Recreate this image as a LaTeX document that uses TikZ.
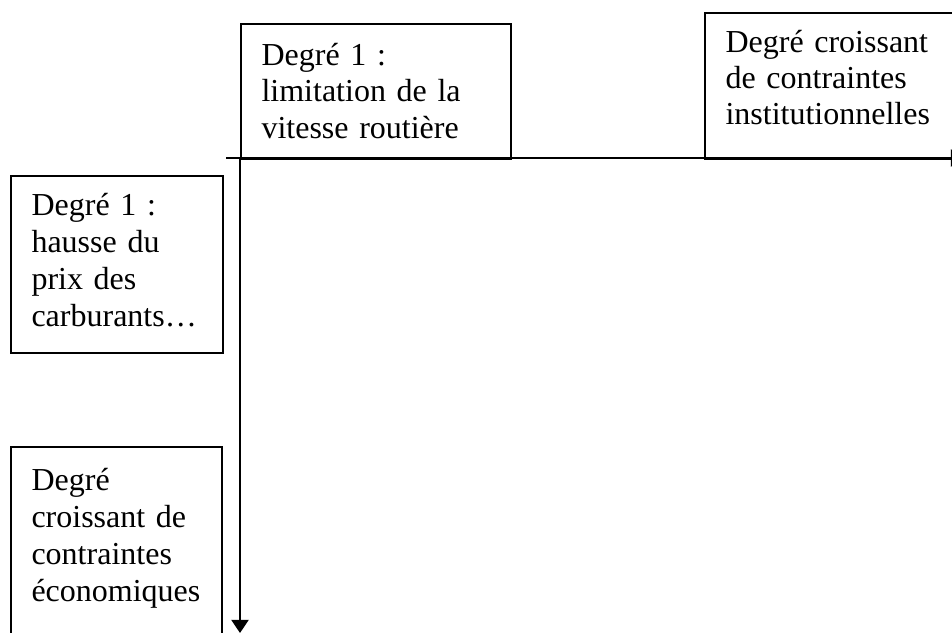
\documentclass[tikz,border=0pt]{standalone}
\usepackage{fontspec}
\setmainfont{Liberation Serif}
\usetikzlibrary{arrows.meta}
\tikzset{
  boxnode/.style={draw, line width=0.65pt, inner sep=0pt, anchor=north west},
  txt/.style={inner sep=0pt, anchor=base west, text width=#1, align=left},
  axisline/.style={line width=0.7pt, -{Triangle[length=4.9pt,width=6.4pt]}}
}
\begin{document}
\begin{tikzpicture}[x=0.375pt,y=-0.375pt]
\useasboundingbox (0,0) rectangle (952,633);
\clip (0,0) rectangle (952,633);
% boxes
\node[boxnode, minimum width=101.25pt, minimum height=50.625pt] (boxA) at (240,23) {};
\node[boxnode, minimum width=96.75pt, minimum height=54.75pt] (boxB) at (704,12) {};
\node[boxnode, minimum width=79.5pt, minimum height=66.4pt] (boxC) at (10,175) {};
\node[boxnode, minimum width=79.1pt, minimum height=75pt] (boxD) at (10,446) {};
% texts
\node[txt=95pt, font=\fontsize{12}{13.76}\selectfont] (textA) at (261,65) {Degré 1 :\\limitation de la\\vitesse routière};
\node[txt=90pt, font=\fontsize{12}{13.65}\selectfont] (textB) at (725,52) {Degré croissant\\de contraintes\\institutionnelles};
\node[txt=75pt, font=\fontsize{12}{13.95}\selectfont] (textC) at (31,215) {Degré 1 :\\hausse du\\prix des\\carburants…};
\node[txt=75pt, font=\fontsize{12}{13.95}\selectfont] (textD) at (31,490) {Degré\\croissant de\\contraintes\\économiques};
% axes
\coordinate (origin) at (240,158);
\coordinate (hstart) at (226,158);
\coordinate (hend) at (964,158);
\coordinate (vend) at (240,633);
\draw[axisline] (hstart) -- (hend);
\draw[axisline] (origin) -- (vend);
\end{tikzpicture}
\end{document}
